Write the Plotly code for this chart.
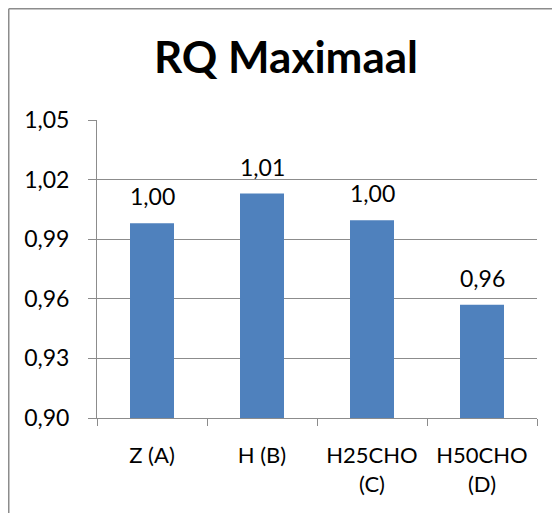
import plotly.graph_objects as go

categories = ["Z (A)", "H (B)", "H25CHO<br>(C)", "H50CHO<br>(D)"]
values = [0.998, 1.013, 0.9995, 0.957]
tick_vals = [0.90, 0.93, 0.96, 0.99, 1.02, 1.05]
tick_text = ["0,90", "0,93", "0,96", "0,99", "1,02", "1,05"]
title_text = "RQ Maximaal"

labels = [f"{v:.2f}".replace(".", ",") for v in values]

W, H = 552, 505
L, R, T, B = 89, 23, 112, 95
pw, ph = W - L - R, H - T - B

fig = go.Figure()
fig.add_trace(go.Bar(
    x=categories, y=values,
    marker=dict(color="#4F81BD", line=dict(width=0)),
))

for c, v, t in zip(categories, values, labels):
    fig.add_annotation(x=c, y=v, text=t, showarrow=False, xref="x", yref="y",
                       yanchor="middle", yshift=27,
                       font=dict(family="Lato", size=23, color="#000000"))

gray = "#8c8c8c"
fig.update_layout(
    width=W, height=H,
    margin=dict(l=L, r=R, t=T, b=B),
    paper_bgcolor="white", plot_bgcolor="white",
    bargap=0.6,
    showlegend=False,
    title=dict(text=f"<b>{title_text}</b>", x=278 / W, xref="container", xanchor="center",
               y=1 - 50 / H, yref="container", yanchor="middle",
               font=dict(family="Lato", size=44, color="#000000")),
    font=dict(family="Lato", size=22, color="#000000"),
    xaxis=dict(showline=True, linecolor=gray, linewidth=1, ticks="outside",
               tickson="boundaries", ticklen=7, tickcolor=gray, showgrid=False,
               ticklabelstandoff=18,
               tickfont=dict(family="Lato", size=22)),
    yaxis=dict(range=[0.90, 1.05], tickvals=tick_vals, ticktext=tick_text,
               showline=True, linecolor=gray, linewidth=1, ticks="outside",
               ticklen=8, tickcolor=gray, showgrid=True, gridcolor=gray, gridwidth=1,
               ticklabelstandoff=14, zeroline=False,
               tickfont=dict(family="Lato", size=23)),
)

# chart frame border (left and top edges visible)
x_left = (0.75 - L) / pw
y_top = 1 + (T - 0.75) / ph
fig.add_shape(type="line", xref="paper", yref="paper", x0=x_left, x1=x_left,
              y0=-(B + 5) / ph, y1=y_top, line=dict(color=gray, width=1.5), layer="below")
fig.add_shape(type="line", xref="paper", yref="paper", x0=x_left, x1=(W - L + 5) / pw,
              y0=y_top, y1=y_top, line=dict(color=gray, width=1.5), layer="below")

fig.write_html("out.html")
